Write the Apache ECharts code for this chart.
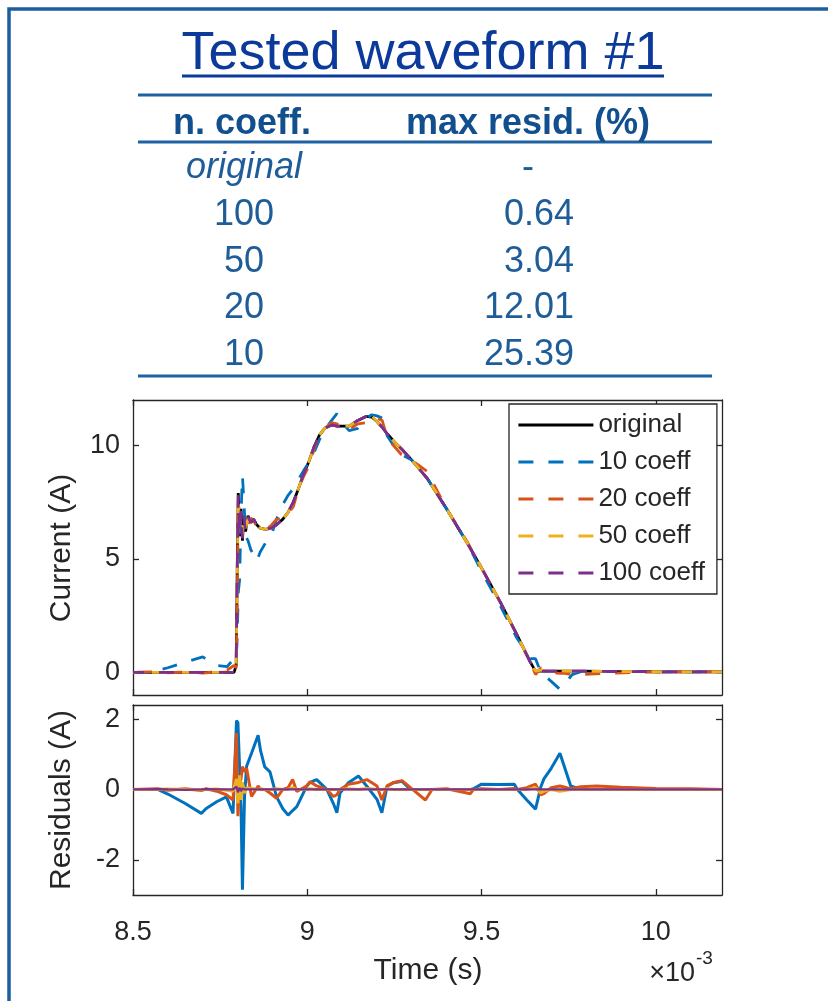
<!DOCTYPE html>
<html><head><meta charset="utf-8">
<script src="https://cdn.jsdelivr.net/npm/echarts@6/dist/echarts.min.js"></script>
<style>html,body{margin:0;padding:0;background:#fff}#c{width:828px;height:1001px}</style>
</head><body><div id="c"></div>
<script>
const FONT = '"Liberation Sans", Arial, Helvetica, sans-serif';

const titleText = 'Tested waveform #1';
const tableHeader = ['n. coeff.', 'max resid. (%)'];
const tableCoeff = ['original', '100', '50', '20', '10'];
const tableResid = ['-', '0.64', '3.04', '12.01', '25.39'];

const seriesNames = ['original', '10 coeff', '20 coeff', '50 coeff', '100 coeff'];
const seriesColors = ['#000000', '#0072BD', '#D95319', '#EDB120', '#7E2F8E'];

const xTicks = [8.5, 9, 9.5, 10];
const yTicksTop = [0, 5, 10];
const yTicksBottom = [-2, 0, 2];

// time in ms (axis shows x10^-3 s)
const timeTop = [8.50, 8.55, 8.60, 8.65, 8.70, 8.74, 8.77, 8.79, 8.796, 8.799, 8.802, 8.806, 8.810, 8.814, 8.818, 8.823, 8.830, 8.838, 8.846, 8.855, 8.865, 8.880, 8.895, 8.912, 8.930, 8.945, 8.960, 8.975, 8.990, 9.005, 9.020, 9.035, 9.050, 9.070, 9.085, 9.100, 9.120, 9.145, 9.170, 9.185, 9.200, 9.215, 9.230, 9.250, 9.270, 9.300, 9.344, 9.400, 9.459, 9.500, 9.555, 9.600, 9.640, 9.655, 9.670, 9.700, 9.725, 9.740, 9.760, 9.790, 9.850, 9.950, 10.050, 10.190];

const currentOriginal = [0, 0, 0, 0, 0, 0, 0, 0,
  0.3, 4.5, 7.9, 6.0, 7.2, 5.8, 6.9, 6.2, 6.9, 6.6, 6.75, 6.5,
  6.35, 6.3, 6.35, 6.5, 6.75, 7.05, 7.5, 8.1, 8.75, 9.3,
  9.95, 10.45, 10.75, 10.9, 10.85, 10.85, 10.85, 11.1, 11.28, 11.25,
  11.05, 10.8, 10.5, 10.15, 9.85, 9.35, 8.55, 7.2, 5.7, 4.6,
  3.06, 1.7, 0.45, 0.05, 0.05, 0.05, 0.05, 0.05, 0.05, 0.05,
  0.04, 0.03, 0.02, 0.02];

const current10 = [0, 0, 0.2, 0.45, 0.68, 0.3, 0.25, 0.6,
  0.5, 1.5, 3.5, 4.1, 7.0, 8.65, 7.6, 6.0, 5.8, 5.4, 5.2, 4.9,
  5.3, 5.7, 5.95, 6.75, 7.4, 7.8, 8.1, 8.5, 8.9, 9.25,
  9.7, 10.25, 10.7, 11.1, 11.4, 11.0, 10.65, 10.75, 11.2, 11.35,
  11.3, 11.2, 10.4, 9.95, 9.6, 9.35, 8.55, 7.2, 5.7, 4.45,
  2.9, 1.55, 0.6, 0.6, 0.0, -0.4, -0.75, -0.5, -0.1, 0.05,
  0.04, 0.03, 0.02, 0.02];

const current20 = [0, 0.02, -0.02, 0.02, -0.03, 0.02, 0.1, 0.3,
  0.2, 2.9, 7.5, 6.7, 6.6, 6.5, 6.4, 6.5, 6.5, 6.8, 6.7, 6.4,
  6.35, 6.3, 6.45, 6.75, 6.75, 7.0, 7.3, 8.1, 8.65, 9.1,
  9.85, 10.45, 10.75, 11.0, 10.95, 10.75, 10.7, 10.95, 11.0, 11.2,
  11.2, 11.1, 10.3, 9.95, 9.6, 9.35, 8.85, 7.2, 5.75, 4.6,
  3.06, 1.7, 0.45, -0.1, 0.2, 0.0, -0.05, -0.05, -0.1, -0.1,
  -0.05, 0.0, 0.02, 0.02];

const current50 = [0, 0, 0, 0, 0, 0, 0.02, 0.05,
  0.4, 4.0, 7.4, 6.4, 6.9, 6.0, 6.7, 6.3, 6.8, 6.6, 6.75, 6.5,
  6.35, 6.3, 6.35, 6.5, 6.75, 7.05, 7.45, 8.1, 8.75, 9.3,
  9.95, 10.45, 10.75, 10.9, 10.85, 10.85, 10.85, 11.1, 11.25, 11.3,
  11.05, 10.8, 10.5, 10.15, 9.85, 9.35, 8.55, 7.2, 5.7, 4.6,
  3.06, 1.7, 0.45, 0.05, 0.1, 0.05, 0.08, 0.05, 0.05, 0.05,
  0.04, 0.03, 0.02, 0.02];

const current100 = [0, 0, 0, 0, 0, 0, 0, 0,
  0.3, 4.4, 7.8, 6.1, 7.1, 5.9, 6.85, 6.25, 6.85, 6.6, 6.75, 6.5,
  6.35, 6.3, 6.35, 6.5, 6.75, 7.05, 7.5, 8.1, 8.75, 9.3,
  9.95, 10.45, 10.75, 10.9, 10.85, 10.85, 10.85, 11.1, 11.28, 11.25,
  11.05, 10.8, 10.5, 10.15, 9.85, 9.35, 8.55, 7.2, 5.7, 4.6,
  3.06, 1.7, 0.45, 0.05, 0.05, 0.05, 0.05, 0.05, 0.05, 0.05,
  0.04, 0.03, 0.02, 0.02];

const timeResid = [8.50, 8.571, 8.60, 8.65, 8.696, 8.71, 8.74, 8.768, 8.787, 8.797, 8.801, 8.806, 8.810, 8.814, 8.820, 8.826, 8.840, 8.859, 8.866, 8.878, 8.893, 8.912, 8.930, 8.945, 8.958, 8.970, 8.998, 9.008, 9.027, 9.056, 9.075, 9.085, 9.094, 9.118, 9.147, 9.171, 9.200, 9.214, 9.229, 9.248, 9.272, 9.296, 9.339, 9.358, 9.400, 9.468, 9.477, 9.500, 9.550, 9.594, 9.603, 9.630, 9.655, 9.670, 9.679, 9.700, 9.725, 9.756, 9.785, 9.830, 9.900, 10.000, 10.100, 10.190];

const resid10 = [0, 0, -0.13, -0.4, -0.68, -0.54, -0.35, -0.21, -0.68, 1.96,
  1.9, 1.88, -0.5, -2.85, -0.2, 0.66, 1.03, 1.54, 1.1, 0.64,
  0.5, -0.21, -0.55, -0.73, -0.6, -0.49, 0.09, 0.2, 0.28, 0.0,
  -0.4, -0.66, -0.1, 0.19, 0.38, 0.09, -0.28, -0.66, 0.09, 0.19,
  0.23, 0.0, 0.0, 0.0, 0.0, 0.0, 0.02, 0.15, 0.14, 0.15,
  0.0, -0.3, -0.56, 0.07, 0.3, 0.6, 1.03, 0.1, 0.0, 0.0,
  0.0, 0.0, 0.0, 0.0];

const resid20 = [0, 0.02, -0.02, 0.02, -0.03, 0.02, -0.05, -0.15, -0.3, 1.6,
  -0.76, 0.2, 0.3, 0.65, 0.5, 0.6, -0.2, 0.1, 0.0, 0.0,
  -0.1, -0.25, 0.0, 0.05, 0.28, -0.06, 0.1, 0.22, 0.1, 0.0,
  -0.2, -0.15, 0.0, 0.15, 0.2, 0.28, 0.1, -0.3, 0.1, 0.2,
  0.25, 0.05, -0.3, 0.0, 0.02, -0.12, 0.0, 0.02, 0.0, 0.03,
  0.0, 0.05, 0.15, -0.15, -0.12, 0.05, 0.1, 0.02, 0.08, 0.1,
  0.06, 0.03, 0.02, 0.0];

const resid50 = [0, 0, 0.01, 0, -0.01, 0, 0.01, -0.02, -0.05, 0.3,
  -0.4, 0.4, -0.3, 0.2, -0.1, 0.05, 0.03, 0.0, 0.02, 0.0,
  0.0, 0.02, 0.0, 0.0, 0.05, 0.0, 0.0, 0.02, 0.0, 0.0,
  0.0, 0.0, 0.0, 0.02, 0.0, 0.03, 0.0, 0.0, 0.02, 0.0,
  0.0, 0.0, 0.0, 0.0, 0.0, 0.0, 0.0, 0.0, 0.0, 0.0,
  0.0, 0.0, 0.05, -0.1, -0.05, 0.0, -0.05, 0.0, 0.0, 0.0,
  0.0, 0.0, 0.0, 0.0];

const resid100 = [0, 0.01, 0, -0.01, 0, 0.01, 0, 0, 0, 0.08,
  -0.08, 0.05, -0.05, 0.03, 0, 0, 0, 0, 0, 0,
  0, 0, 0, 0, 0, 0, 0, 0, 0, 0,
  0, 0, 0, 0, 0, 0, 0, 0, 0, 0,
  0, 0, 0, 0, 0, 0, 0, 0, 0, 0,
  0, 0, 0, 0, 0, 0, 0, 0, 0, 0,
  0, 0, 0, 0];

const topValues = [currentOriginal, current10, current20, current50, current100];
const residValues = [resid10, resid20, resid50, resid100];

const pair = (ts, vs) => ts.map((t, i) => [t, vs[i]]);

const AX = '#262626';
const TXT = '#262626';
const TABLE_BLUE = '#1f5d99';
const HEAD_BLUE = '#124f8e';
const TITLE_BLUE = '#0b3a9a';
const DASH = [15, 15];
const dashOffsets = [0, 0, 26, 11, 4];

const chart = echarts.init(document.getElementById('c'), null, {renderer: 'canvas'});

function xAx(grid, pos, labels) {
  return {
    type: 'value', gridIndex: grid, position: pos, min: 8.5, max: 10.19,
    axisLine: {show: true, onZero: false, lineStyle: {color: AX, width: 1.3}},
    axisTick: {show: true, inside: true, length: 6, customValues: xTicks, lineStyle: {color: AX, width: 1.3}},
    axisLabel: {show: labels, customValues: xTicks, margin: 24, color: TXT, fontSize: 27, fontFamily: FONT},
    splitLine: {show: false}
  };
}
function yAx(grid, pos, min, max, ticks, labels) {
  return {
    type: 'value', gridIndex: grid, position: pos, min: min, max: max,
    axisLine: {show: true, onZero: false, lineStyle: {color: AX, width: 1.3}},
    axisTick: {show: true, inside: true, length: 6, customValues: ticks, lineStyle: {color: AX, width: 1.3}},
    axisLabel: {show: labels, customValues: ticks, margin: 13, color: TXT, fontSize: 27, fontFamily: FONT},
    splitLine: {show: false}
  };
}

const series = [];
seriesNames.forEach((n, i) => {
  series.push({
    name: n, type: 'line', xAxisIndex: 0, yAxisIndex: 0,
    data: pair(timeTop, topValues[i]),
    showSymbol: false, symbol: 'none', animation: false,
    color: seriesColors[i],
    lineStyle: {color: seriesColors[i], width: 2.8, type: i === 0 ? 'solid' : DASH, dashOffset: dashOffsets[i]}
  });
});
seriesNames.slice(1).forEach((n, i) => {
  series.push({
    name: n + ' resid', type: 'line', xAxisIndex: 2, yAxisIndex: 2,
    data: pair(timeResid, residValues[i]),
    showSymbol: false, symbol: 'none', animation: false,
    color: seriesColors[i + 1],
    lineStyle: {color: seriesColors[i + 1], width: i === 3 ? 2.2 : 3}
  });
});

const graphics = [];
graphics.push({type: 'rect', shape: {x: 9, y: 9, width: 900, height: 1100},
  style: {fill: 'none', stroke: '#1d5e9f', lineWidth: 3.5}, z: 100});
graphics.push({type: 'text', x: 423, y: 54, style: {text: titleText, font: '54px ' + FONT, fill: TITLE_BLUE, align: 'center', verticalAlign: 'middle'}});
graphics.push({type: 'line', shape: {x1: 182, y1: 76, x2: 664, y2: 76}, style: {stroke: TITLE_BLUE, lineWidth: 3}});
[95, 142, 376].forEach(y => graphics.push({type: 'line', shape: {x1: 138, y1: y, x2: 712, y2: y}, style: {stroke: '#1f62a3', lineWidth: 3}}));
graphics.push({type: 'text', x: 242, y: 124, style: {text: tableHeader[0], font: 'bold 36px ' + FONT, fill: HEAD_BLUE, align: 'center', verticalAlign: 'middle'}});
graphics.push({type: 'text', x: 528, y: 124, style: {text: tableHeader[1], font: 'bold 36px ' + FONT, fill: HEAD_BLUE, align: 'center', verticalAlign: 'middle'}});
const rowY = [168, 215, 262, 308, 355];
tableCoeff.forEach((c, i) => {
  graphics.push({type: 'text', x: 244, y: rowY[i], style: {text: c, font: (i === 0 ? 'italic ' : '') + '36px ' + FONT, fill: TABLE_BLUE, align: 'center', verticalAlign: 'middle'}});
  const r = tableResid[i];
  if (r === '-') {
    graphics.push({type: 'text', x: 528, y: rowY[i], style: {text: r, font: '36px ' + FONT, fill: TABLE_BLUE, align: 'center', verticalAlign: 'middle'}});
  } else {
    graphics.push({type: 'text', x: 574, y: rowY[i], style: {text: r, font: '36px ' + FONT, fill: TABLE_BLUE, align: 'right', verticalAlign: 'middle'}});
  }
});
graphics.push({type: 'text', x: 62, y: 548, rotation: Math.PI / 2, style: {text: 'Current (A)', font: '30px ' + FONT, fill: TXT, align: 'center', verticalAlign: 'middle'}});
graphics.push({type: 'text', x: 62, y: 800, rotation: Math.PI / 2, style: {text: 'Residuals (A)', font: '30px ' + FONT, fill: TXT, align: 'center', verticalAlign: 'middle'}});
graphics.push({type: 'text', x: 428, y: 971, style: {text: 'Time (s)', font: '30px ' + FONT, fill: TXT, align: 'center', verticalAlign: 'middle'}});
graphics.push({type: 'text', x: 695, y: 974, style: {text: '\u00d710', font: '27px ' + FONT, fill: TXT, align: 'right', verticalAlign: 'middle'}});
graphics.push({type: 'text', x: 696, y: 959, style: {text: '-3', font: '19px ' + FONT, fill: TXT, align: 'left', verticalAlign: 'middle'}});

chart.setOption({
  animation: false,
  backgroundColor: '#ffffff',
  textStyle: {fontFamily: FONT},
  grid: [
    {left: 133, top: 400, width: 589, height: 295},
    {left: 133, top: 705, width: 589, height: 190}
  ],
  xAxis: [xAx(0, 'bottom', false), xAx(0, 'top', false), xAx(1, 'bottom', true), xAx(1, 'top', false)],
  yAxis: [yAx(0, 'left', -1, 12, yTicksTop, true), yAx(0, 'right', -1, 12, yTicksTop, false),
          yAx(1, 'left', -3, 2.4, yTicksBottom, true), yAx(1, 'right', -3, 2.4, yTicksBottom, false)],
  legend: {
    data: seriesNames, orient: 'vertical', left: 509, top: 404,
    padding: [8, 12, 8, 8], itemWidth: 75, itemHeight: 14, itemGap: 11,
    backgroundColor: '#ffffff', borderColor: AX, borderWidth: 1.3,
    itemStyle: {opacity: 0},
    lineStyle: {width: 2.8, dashOffset: 0},
    textStyle: {color: TXT, fontSize: 26, fontFamily: FONT, lineHeight: 26},
    selectedMode: false
  },
  graphic: {elements: graphics},
  series: series
});
</script>
</body></html>
